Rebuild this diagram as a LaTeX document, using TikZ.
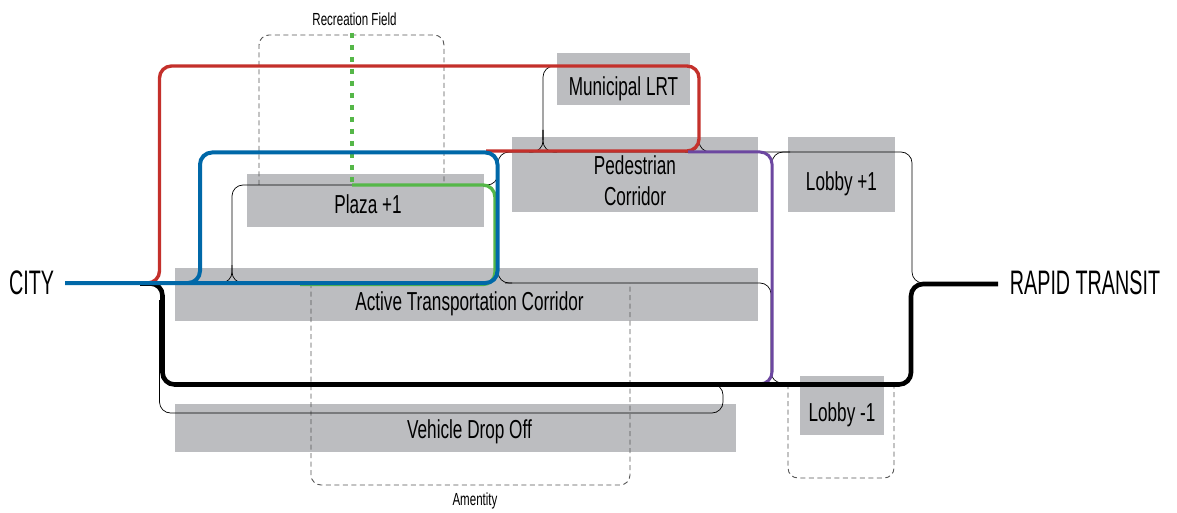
\documentclass[tikz,border=0pt]{standalone}
\usepackage{fontspec}
\setmainfont{Liberation Sans}[FakeStretch=0.66]
\newfontfamily\bigfont{Liberation Sans}[FakeStretch=0.58]
\definecolor{lred}{HTML}{C4302B}
\definecolor{lblue}{HTML}{0068A8}
\definecolor{lgreen}{HTML}{55B748}
\definecolor{lpurple}{HTML}{6C47A0}
\definecolor{boxgray}{HTML}{BCBDC0}
\definecolor{dashgray}{HTML}{555555}
\begin{document}
\begin{tikzpicture}[x=1pt,y=-1pt,
  box/.style={fill=boxgray, inner sep=0pt, font=\fontsize{26}{31}\selectfont},
  oneline/.style={text depth=0pt},
  smalllab/.style={font=\fontsize{17.5}{20}\selectfont, anchor=base, inner sep=0pt},
  endlab/.style={font=\bigfont\fontsize{34}{40}\selectfont, anchor=base, inner sep=0pt},
  dashbox/.style={draw=dashgray, line width=0.9pt, dash pattern=on 5pt off 3.5pt, rounded corners=10pt},
  thinline/.style={draw=black, line width=0.7pt, rounded corners=11pt},
  redline/.style={draw=lred, line width=3.4pt, rounded corners=12pt},
  greenline/.style={draw=lgreen, line width=3.4pt, rounded corners=12pt},
  purpleline/.style={draw=lpurple, line width=3pt, rounded corners=12pt},
  blackline/.style={draw=black, line width=4.6pt, rounded corners=12pt},
  blueline/.style={draw=lblue, line width=4pt, rounded corners=12pt}]
\fill[white] (0,0) rectangle (1177,513);
\useasboundingbox (0,0) rectangle (1177,513);

% grey zones
\node[box, oneline, minimum width=133pt, minimum height=52pt, text height=33pt] (mlrt) at (623.5,79) {Municipal LRT};
\node[box, minimum width=246pt, minimum height=75pt, align=center] (ped) at (635,174.5) {\rule{0pt}{32pt}Pedestrian\\Corridor};
\node[box, oneline, minimum width=107pt, minimum height=75pt, text height=31pt] (lob1) at (841.5,174.5) {Lobby +1};
\node[box, oneline, minimum width=237pt, minimum height=53pt, text height=25pt] (plaza) at (365.5,200.5) {\hspace*{5pt}Plaza +1};
\node[box, oneline, minimum width=583pt, minimum height=53pt, text height=31pt] (atc) at (466.5,294.5) {\hspace*{6pt}Active Transportation Corridor};
\node[box, oneline, minimum width=561pt, minimum height=48pt, text height=20pt] (vdo) at (455.5,428) {\hspace*{28pt}Vehicle Drop Off};
\node[box, oneline, minimum width=84pt, minimum height=59pt, text height=32.4pt] (lobm) at (842,405.5) {Lobby -1};

% labels
\node[smalllab] (rec) at (354.5,26) {Recreation Field};
\node[smalllab] (amen) at (475,505) {Amentity};
\node[endlab] (city) at (31.5,294.3) {CITY};
\node[endlab] (rt) at (1085,294.3) {RAPID TRANSIT};

% dashed areas
\draw[dashbox] (259,185) -- (259,35) -- (444,35) -- (444,185);
\draw[dashbox] (311,283) -- (311,485) -- (630,485) -- (630,283);
\draw[dashbox] (788,384) -- (788,478) -- (894,478) -- (894,384);

% thin connectors
\draw[thinline] (352,185) -- (232,185) -- (232,283) -- (218,283);
\draw[thinline] (232,265) -- (232,283) -- (246,283);
\draw[thinline] (543,140) -- (543,66) -- (699,66) -- (699,152) -- (685,152);
\draw[thinline] (543,130) -- (543,152) -- (529,152);
\draw[thinline] (543,130) -- (543,152) -- (557,152);
\draw[thinline] (699,130) -- (699,152) -- (713,152);
\draw[thinline] (512,152) -- (498,152) -- (498,283) -- (512,283);
\draw[thinline] (498,168) -- (498,185) -- (484,185);
\draw[thinline] (505,283) -- (771,283) -- (771,383) -- (787,383);
\draw[thinline] (505,152) -- (912,152) -- (912,283) -- (928,283);
\draw[thinline] (790,152) -- (772,152) -- (772,170);
\draw[thinline] (159.5,300) -- (159.5,413) -- (723,413) -- (723,384) -- (709,384);

% coloured routes
\draw[redline] (140,283) -- (159.5,283) -- (159.5,66) -- (699,66) -- (699,151) -- (486,151);
\draw[lgreen, line width=3.6pt, dash pattern=on 5pt off 7pt] (352,33) -- (352,183);
\draw[greenline] (352,185) -- (495,185) -- (495,284.5) -- (300,284.5);
\draw[purpleline] (688,152) -- (772,152) -- (772,384) -- (750,384);
\draw[blackline] (140,283.5) -- (162.5,283.5) -- (162.5,384.5) -- (911,384.5) -- (911,284) -- (998,284);
\draw[blueline] (65,283) -- (497.5,283) -- (497.5,152.5) -- (200,152.5) -- (200,283) -- (180,283);
\end{tikzpicture}
\end{document}
